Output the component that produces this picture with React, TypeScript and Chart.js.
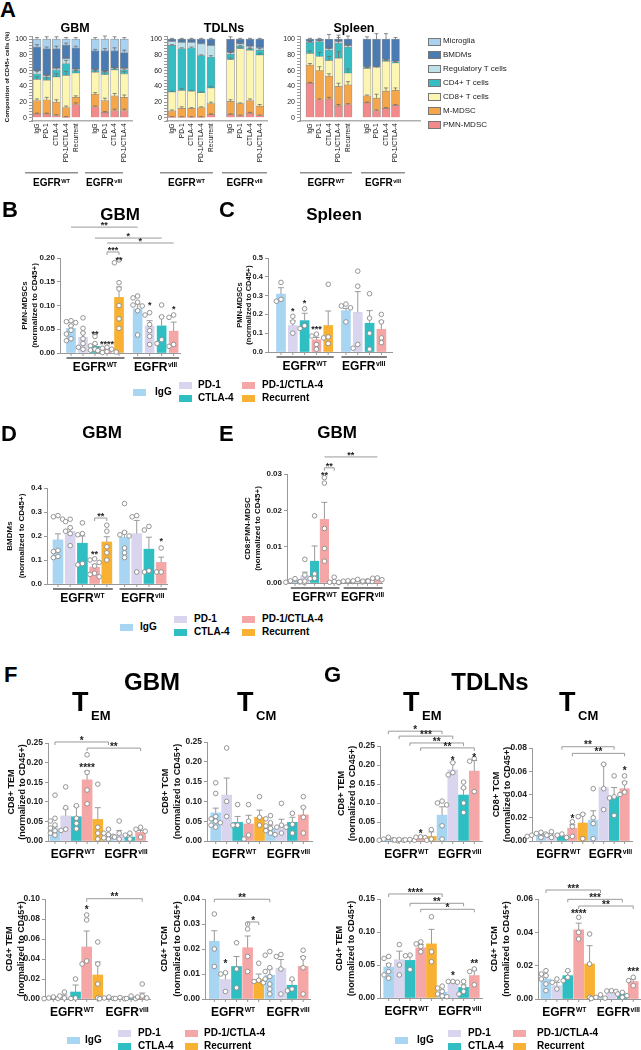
import React, { useEffect, useRef } from 'react';
import { Chart, registerables } from 'chart.js';

Chart.register(...registerables);

const FONT = '"Liberation Sans", Arial, Helvetica, sans-serif';
Chart.defaults.font.family = FONT;

/* ---------------- shared treatment groups ---------------- */
const treatments = ['IgG', 'PD-1', 'CTLA-4', 'PD-1/CTLA-4', 'Recurrent'];
const treatmentColors = ['#A8D5F2', '#D9D5EE', '#2FBEC2', '#F5A7A7', '#F8B132'];
const barGroupIdx = [0, 1, 2, 3, 4, 0, 1, 2, 3]; // EGFR WT x5, EGFR vIII x4

/* ---------------- Panel A: composition of CD45+ cells (%) ---------------- */
const aPopulations = ['PMN-MDSC', 'M-MDSC', 'CD8+ T cells', 'CD4+ T cells', 'Regulatory T cells', 'BMDMs', 'Microglia'];
const aPopColors = ['#F28A8C', '#F5A54A', '#FCF6B2', '#34BEC4', '#BFE2EA', '#4A7CB3', '#A8D2F0'];
const aLegendOrder = [6, 5, 4, 3, 2, 1, 0];
const aBarLabels = ['IgG', 'PD-1', 'CTLA-4', 'PD-1/CTLA-4', 'Recurrent', 'IgG', 'PD-1', 'CTLA-4', 'PD-1/CTLA-4'];

const gbmPMN = [5, 5, 3, 1, 17, 14, 7, 9, 9];
const gbmMMDSC = [17, 18, 17, 12, 9, 16, 15, 19, 17];
const gbmCD8 = [27, 25, 32, 41, 31, 28, 33, 33, 30];
const gbmCD4 = [7, 4, 9, 15, 3, 2, 3, 1, 5];
const gbmTreg = [4, 2, 2, 6, 2, 1, 1, 1, 2];
const gbmBMDM = [30, 34, 25, 17, 27, 24, 26, 22, 20];
const gbmMicroglia = [10, 12, 12, 8, 11, 15, 15, 15, 17];
const gbmSem = [
  [1, 1, 1, 0.5, 2, 1, 1, 2, 2],
  [2, 3, 3, 2, 2, 2, 3, 3, 3],
  [3, 3, 4, 5, 3, 2, 4, 3, 3],
  [3, 2, 3, 4, 1, 1, 1, 1, 1],
  [1, 1, 1, 2, 1, 1, 1, 1, 1],
  [3, 2, 3, 3, 2, 2, 3, 4, 3],
  [2, 3, 3, 2, 2, 2, 4, 3, 2],
];

const tdlnPMN = [1, 1, 1, 1, 4, 4, 3, 6, 3];
const tdlnMMDSC = [8, 11, 11, 12, 14, 17, 15, 16, 12];
const tdlnCD8 = [24, 23, 22, 19, 20, 53, 70, 64, 65];
const tdlnCD4 = [59, 53, 55, 47, 39, 7, 3, 2, 6];
const tdlnTreg = [5, 8, 7, 15, 15, 2, 3, 3, 3];
const tdlnBMDM = [3, 4, 4, 6, 8, 17, 6, 9, 11];
const tdlnMicroglia = [0, 0, 0, 0, 0, 0, 0, 0, 0];
const tdlnSem = [
  [0.5, 0.5, 0.5, 0.5, 1, 1, 0.5, 1, 0.5],
  [1, 2, 1, 1, 2, 2, 1, 2, 2],
  [1, 2, 1, 1, 2, 2, 1, 2, 2],
  [1, 1, 1, 1, 2, 2, 1, 2, 2],
  [2, 3, 2, 2, 3, 2, 1, 2, 2],
  [1, 1, 1, 1, 1, 3, 1, 1, 1],
  [0, 0, 0, 0, 0, 0, 0, 0, 0],
];

const splPMN = [44, 23, 24, 15, 17, 19, 9, 12, 16];
const splMMDSC = [23, 37, 29, 25, 25, 9, 16, 22, 19];
const splCD8 = [15, 18, 20, 36, 15, 35, 39, 38, 35];
const splCD4 = [14, 19, 13, 19, 33, 1, 0, 1, 1];
const splTreg = [1, 1, 2, 2, 2, 1, 1, 1, 1];
const splBMDM = [3, 2, 12, 3, 8, 35, 35, 26, 28];
const splMicroglia = [0, 0, 0, 0, 0, 0, 0, 0, 0];
const splSem = [
  [1, 1, 2, 2, 1, 1, 1, 1, 1],
  [2, 5, 3, 4, 4, 1, 5, 4, 3],
  [3, 5, 5, 8, 5, 1, 1, 2, 1],
  [1, 1, 3, 10, 4, 0.5, 0.5, 0.5, 0.5],
  [0.5, 0.5, 0.5, 0.5, 0.5, 0.5, 0.5, 0.5, 0.5],
  [1, 1, 6, 2, 4, 3, 7, 7, 2],
  [0, 0, 0, 0, 0, 0, 0, 0, 0],
];

/* ---------------- Panel B: GBM PMN-MDSCs ---------------- */
const bMeans = [0.052, 0.033, 0.014, 0.005, 0.117, 0.093, 0.057, 0.057, 0.046];
const bSem = [0.006, 0.01, 0.004, 0.002, 0.022, 0.01, 0.011, 0.02, 0.019];
const bDots = [
  [0.068, 0.066, 0.064, 0.057, 0.048, 0.04, 0.03, 0.026],
  [0.074, 0.052, 0.042, 0.03, 0.02, 0.012, 0.008],
  [0.035, 0.02, 0.015, 0.008, 0.007, 0.006],
  [0.012, 0.01, 0.008, 0.005, 0.003, 0.002, 0.001],
  [0.196, 0.19, 0.148, 0.135, 0.1, 0.072, 0.052],
  [0.12, 0.116, 0.107, 0.101, 0.099, 0.089, 0.038],
  [0.085, 0.08, 0.06, 0.047, 0.035, 0.018],
  [0.101, 0.076, 0.028, 0.02],
  [0.08, 0.075, 0.018, 0.014],
];
const bStars = [[2, '**', 0.044], [3, '****', 0.023], [4, '**', 0.2], [6, '*', 0.105], [8, '*', 0.097]];
const bBrackets = [[0, 5, 0.265, '**'], [2, 7, 0.242, '*'], [3, 8, 0.2316, '*'], [3, 4, 0.2126, '***']];

/* ---------------- Panel C: Spleen PMN-MDSCs ---------------- */
const cMeans = [0.308, 0.141, 0.167, 0.065, 0.141, 0.22, 0.211, 0.153, 0.121];
const cSem = [0.034, 0.025, 0.039, 0.012, 0.077, 0.012, 0.11, 0.067, 0.043];
const cDots = [
  [0.37, 0.28, 0.27],
  [0.19, 0.16, 0.1],
  [0.23, 0.14, 0.125],
  [0.095, 0.085, 0.04, 0.015],
  [0.36, 0.08, 0.075, 0.045],
  [0.255, 0.245, 0.235, 0.16],
  [0.43, 0.35, 0.04, 0.02],
  [0.31, 0.18, 0.1, 0.015],
  [0.2, 0.16, 0.075, 0.05],
];
const cStars = [[1, '*', 0.229], [2, '*', 0.27], [3, '***', 0.133]];
const cBrackets: any[] = [];

/* ---------------- Panel D: GBM BMDMs ---------------- */
const dMeans = [0.184, 0.22, 0.17, 0.07, 0.175, 0.195, 0.21, 0.145, 0.09];
const dSem = [0.025, 0.012, 0.03, 0.012, 0.022, 0.022, 0.055, 0.05, 0.022];
const dDots = [
  [0.285, 0.28, 0.27, 0.14, 0.135, 0.115, 0.11],
  [0.27, 0.26, 0.235, 0.22, 0.21, 0.16],
  [0.255, 0.21, 0.205, 0.085, 0.08],
  [0.105, 0.1, 0.09, 0.075, 0.045, 0.04, 0.03],
  [0.245, 0.22, 0.155, 0.13, 0.1],
  [0.335, 0.215, 0.205, 0.2, 0.15, 0.13, 0.11],
  [0.285, 0.28, 0.05],
  [0.24, 0.225, 0.055, 0.05],
  [0.15, 0.05, 0.05],
];
const dStars = [[3, '**', 0.133], [8, '*', 0.19]];
const dBrackets = [[3, 4, 0.275, '**']];

/* ---------------- Panel E: GBM CD8:PMN-MDSC ---------------- */
const eMeans = [0.0003, 0.002, 0.006, 0.0175, 0.0003, 0.0004, 0.0005, 0.0004, 0.0008];
const eSem = [0.0002, 0.001, 0.0042, 0.0047, 0.0003, 0.0001, 0.0002, 0.0001, 0.0003];
const eDots = [
  [0.0012, 0.0006, 0.0003, 0.0002, 0.0001],
  [0.0065, 0.0022, 0.0005, 0.0004],
  [0.0185, 0.0025, 0.0013, 0.0012],
  [0.029, 0.0275, 0.015, 0.0095, 0.006],
  [0.0016, 0.0004, 0.0002, 0.0001],
  [0.0006, 0.0005, 0.0004, 0.0002],
  [0.001, 0.0006, 0.0003],
  [0.0006, 0.0005, 0.0004],
  [0.0014, 0.0013, 0.0009, 0.0005],
];
const eStars = [[3, '**', 0.0303]];
const eBrackets = [[3, 8, 0.0347, '**'], [3, 4, 0.0317, '**']];

/* ---------------- Panel F: GBM T-cell memory subsets ---------------- */
const fCd8TemMeans = [0.031, 0.064, 0.062, 0.156, 0.055, 0.012, 0.016, 0.01, 0.022];
const fCd8TemSem = [0.005, 0.018, 0.026, 0.022, 0.03, 0.004, 0.011, 0.005, 0.005];
const fCd8TemDots = [
  [0.117, 0.058, 0.051, 0.041, 0.033, 0.026, 0.02, 0.015],
  [0.138, 0.085, 0.03, 0.027],
  [0.09, 0.058, 0.045, 0.031],
  [0.22, 0.175, 0.13, 0.095],
  [0.145, 0.035, 0.02, 0.005],
  [0.03, 0.02, 0.016, 0.012, 0.008, 0.005],
  [0.051, 0.02, 0.01, 0.005],
  [0.02, 0.015, 0.005],
  [0.035, 0.03, 0.025, 0.01],
];
const fCd8TemStars = [[3, '****', 0.192]];
const fCd8TemBrackets = [[0, 5, 0.2526, '*'], [3, 8, 0.237, '**']];

const fCd8TcmMeans = [0.071, 0.116, 0.047, 0.043, 0.06, 0.032, 0.035, 0.047, 0.066];
const fCd8TcmSem = [0.012, 0.043, 0.015, 0.022, 0.018, 0.008, 0.02, 0.013, 0.02];
const fCd8TcmDots = [
  [0.147, 0.12, 0.062, 0.056, 0.05, 0.046, 0.04, 0.035],
  [0.235, 0.1, 0.062],
  [0.092, 0.04, 0.04],
  [0.092, 0.05, 0.015, 0.005],
  [0.112, 0.06, 0.04],
  [0.064, 0.056, 0.046, 0.038, 0.032, 0.026, 0.02, 0.016],
  [0.095, 0.04, 0.035, 0.035, 0.02],
  [0.07, 0.042, 0.02],
  [0.112, 0.085, 0.06, 0.02],
];
const fCd8TcmStars: any[] = [];
const fCd8TcmBrackets: any[] = [];

const fCd4TemMeans = [0.0005, 0.002, 0.007, 0.052, 0.024, 0.001, 0.0005, 0.001, 0.003];
const fCd4TemSem = [0.0003, 0.002, 0.007, 0.016, 0.013, 0.0005, 0.0003, 0.0005, 0.003];
const fCd4TemDots = [
  [0.002, 0.001, 0.0005, 0.0003],
  [0.007, 0.003, 0.001],
  [0.02, 0.001, 0.0005],
  [0.084, 0.079, 0.038, 0.035],
  [0.057, 0.035, 0.015, 0.001],
  [0.002, 0.001, 0.0005, 0.0003],
  [0.0015, 0.0005, 0.0002],
  [0.003, 0.0005, 0.0003],
  [0.015, 0.003, 0.002, 0.001],
];
const fCd4TemStars = [[3, '*', 0.092]];
const fCd4TemBrackets = [[3, 8, 0.1003, '**']];

const fCd4TcmMeans = [0.0231, 0.0078, 0.013, 0.0205, 0.0078, 0.0095, 0.0123, 0.0055, 0.013];
const fCd4TcmSem = [0.0042, 0.0025, 0.004, 0.0047, 0.0022, 0.0025, 0.0035, 0.002, 0.004];
const fCd4TcmDots = [
  [0.034, 0.02, 0.013],
  [0.0105, 0.01, 0.003],
  [0.0225, 0.012, 0.0045],
  [0.03, 0.028, 0.017, 0.011],
  [0.0143, 0.0075, 0.007, 0.0065],
  [0.019, 0.0175, 0.0125, 0.011, 0.009, 0.008, 0.006, 0.004, 0.002],
  [0.0178, 0.017, 0.012, 0.002],
  [0.008, 0.004, 0.0033],
  [0.0195, 0.0165, 0.0125, 0.002],
];
const fCd4TcmStars = [[1, '*', 0.0149]];
const fCd4TcmBrackets = [[0, 5, 0.0399, '**'], [3, 4, 0.0308, '*']];

/* ---------------- Panel G: TDLN T-cell memory subsets ---------------- */
const gCd8TemMeans = [0.003, 0.003, 0.003, 0.008, 0.012, 0.068, 0.187, 0.121, 0.184];
const gCd8TemSem = [0.001, 0.0005, 0.0005, 0.002, 0.012, 0.022, 0.02, 0.018, 0.028];
const gCd8TemDots = [
  [0.01, 0.005, 0.003, 0.002, 0.001],
  [0.004, 0.003, 0.002],
  [0.004, 0.003, 0.002],
  [0.011, 0.01, 0.009],
  [0.03, 0.005, 0.002],
  [0.105, 0.1, 0.095, 0.04, 0.005],
  [0.206, 0.18, 0.174],
  [0.155, 0.14, 0.1, 0.075],
  [0.217, 0.21, 0.13],
];
const gCd8TemStars = [[3, '*', 0.0245], [6, '*', 0.218], [8, '*', 0.226]];
const gCd8TemBrackets = [[0, 5, 0.289, '*'], [1, 6, 0.276, '***'], [2, 7, 0.258, '**'], [3, 8, 0.245, '**']];

const gCd8TcmMeans = [0.005, 0.005, 0.004, 0.011, 0.0155, 0.018, 0.046, 0.038, 0.045];
const gCd8TcmSem = [0.001, 0.001, 0.001, 0.003, 0.008, 0.008, 0.02, 0.008, 0.006];
const gCd8TcmDots = [
  [0.0075, 0.0065, 0.006, 0.005, 0.0045, 0.004, 0.003],
  [0.008, 0.005, 0.003],
  [0.006, 0.005, 0.003],
  [0.0166, 0.0123, 0.004],
  [0.023, 0.021, 0.002],
  [0.045, 0.02, 0.015, 0.002],
  [0.066, 0.045, 0.027],
  [0.056, 0.038, 0.037, 0.022],
  [0.056, 0.05, 0.042, 0.04],
];
const gCd8TcmStars = [[3, '*', 0.0209], [8, '*', 0.0628]];
const gCd8TcmBrackets = [[2, 7, 0.0811, '**'], [3, 8, 0.0754, '**']];

const gCd4TemMeans = [0.047, 0.058, 0.057, 0.076, 0.082, 0.009, 0.025, 0.016, 0.034];
const gCd4TemSem = [0.005, 0.013, 0.008, 0.005, 0.022, 0.003, 0.001, 0.004, 0.008];
const gCd4TemDots = [
  [0.063, 0.06, 0.05, 0.04, 0.035, 0.03],
  [0.081, 0.05, 0.035],
  [0.065, 0.064, 0.043],
  [0.085, 0.082, 0.078, 0.07],
  [0.123, 0.07, 0.055],
  [0.018, 0.015, 0.01, 0.006, 0.003, 0.002],
  [0.025, 0.025, 0.024],
  [0.025, 0.017, 0.01, 0.006],
  [0.044, 0.04, 0.02],
];
const gCd4TemStars = [[6, '*', 0.0374], [8, '**', 0.055]];
const gCd4TemBrackets = [[0, 5, 0.1576, '****'], [2, 7, 0.1435, '**'], [3, 8, 0.1344, '*']];

const gCd4TcmMeans = [0.012, 0.008, 0.014, 0.0415, 0.021, 0.0008, 0.0045, 0.003, 0.0105];
const gCd4TcmSem = [0.002, 0.002, 0.0025, 0.004, 0.011, 0.0006, 0.0004, 0.001, 0.0015];
const gCd4TcmDots = [
  [0.017, 0.015, 0.014, 0.012, 0.009, 0.005],
  [0.012, 0.01, 0.006],
  [0.017, 0.013, 0.011],
  [0.049, 0.04, 0.036],
  [0.039, 0.021, 0.001],
  [0.0025, 0.001, 0.0005, 0.0003],
  [0.005, 0.0048, 0.0045],
  [0.004, 0.003, 0.002, 0.001],
  [0.013, 0.011, 0.008],
];
const gCd4TcmStars = [[3, '****', 0.0524], [8, '***', 0.0178]];
const gCd4TcmBrackets = [[0, 5, 0.0654, '***'], [2, 7, 0.0598, '***'], [3, 8, 0.0558, '**']];

/* ---------------- helpers ---------------- */
const posWithGap = (g: number) => [0, 1, 2, 3, 4, g, g + 1, g + 2, g + 3];
const fmtStep = (step: number, dec: number) => (v: number) =>
  Math.abs(v / step - Math.round(v / step)) < 1e-6 && v >= -1e-9 ? v.toFixed(dec) : '';

function swarm(py: number[], r: number, step: number): number[] {
  const placed: { x: number; y: number }[] = [];
  const cands = [0, -step, step, -2 * step, 2 * step, -3 * step, 3 * step];
  return py.map((y) => {
    for (const c of cands) {
      if (placed.every((p) => Math.hypot(p.x - c, p.y - y) >= 2 * r - 0.4)) {
        placed.push({ x: c, y });
        return c;
      }
    }
    placed.push({ x: 0, y });
    return 0;
  });
}

function drawEGFR(ctx: CanvasRenderingContext2D, cx: number, cy: number, size: number, sup: string) {
  ctx.save();
  ctx.fillStyle = '#000';
  ctx.textAlign = 'left';
  ctx.textBaseline = 'alphabetic';
  const big = `bold ${size}px ${FONT}`;
  const small = `bold ${size * 0.56}px ${FONT}`;
  ctx.font = big;
  const w1 = ctx.measureText('EGFR').width;
  ctx.font = small;
  const w2 = ctx.measureText(sup).width;
  const x0 = cx - (w1 + w2 + 0.5) / 2;
  const base = cy + size * 0.36;
  ctx.font = big;
  ctx.fillText('EGFR', x0, base);
  ctx.font = small;
  ctx.fillText(sup, x0 + w1 + 0.5, base - size * 0.36);
  ctx.restore();
}

function drawStar(ctx: CanvasRenderingContext2D, label: string, x: number, cy: number, size: number) {
  ctx.save();
  ctx.fillStyle = '#222';
  ctx.font = `bold ${size}px ${FONT}`;
  ctx.textAlign = 'center';
  ctx.textBaseline = 'alphabetic';
  ctx.fillText(label, x, cy + size * 0.57);
  ctx.restore();
}

function seg(ctx: CanvasRenderingContext2D, x1: number, y1: number, x2: number, y2: number) {
  ctx.beginPath();
  ctx.moveTo(x1, y1);
  ctx.lineTo(x2, y2);
  ctx.stroke();
}

function drawDeco(chart: any, cfg: any) {
  const { ctx, chartArea } = chart;
  const xs = chart.scales.x;
  const ys = chart.scales.y;
  const X = (v: number) => xs.getPixelForValue(v);
  const Y = (v: number) => ys.getPixelForValue(v);
  const f = cfg.frame;
  const y0 = Y(0);
  ctx.save();
  // y-axis title
  ctx.fillStyle = '#111';
  ctx.font = `bold ${f.titleSize}px ${FONT}`;
  ctx.textAlign = 'center';
  ctx.textBaseline = 'middle';
  const midY = (Y(f.ymax) + y0) / 2;
  f.yTitle.forEach((t: string, k: number) => {
    ctx.save();
    ctx.translate(chartArea.left - f.titleDx[k], midY);
    ctx.rotate(-Math.PI / 2);
    ctx.fillText(t, 0, 0);
    ctx.restore();
  });

  if (cfg.kind === 'stack') {
    ctx.strokeStyle = '#707070';
    ctx.lineWidth = 0.8;
    cfg.pos.forEach((p: number, i: number) => {
      let cum = 0;
      const x = X(p);
      cfg.segs.forEach((s: number[], k: number) => {
        cum += s[i];
        const e = cfg.sems[k][i];
        if (s[i] > 0 && e > 0) {
          const yt = Y(cum);
          const ye = Y(cum + e);
          seg(ctx, x, yt, x, ye);
          seg(ctx, x - 2, ye, x + 2, ye);
        }
      });
    });
    ctx.fillStyle = '#111';
    ctx.font = `${cfg.labelSize}px ${FONT}`;
    ctx.textAlign = 'right';
    ctx.textBaseline = 'middle';
    cfg.labels.forEach((lab: string, i: number) => {
      ctx.save();
      ctx.translate(X(cfg.pos[i]), y0 + 5.5);
      ctx.rotate(-Math.PI / 2);
      ctx.fillText(lab, 0, 0);
      ctx.restore();
    });
    ctx.strokeStyle = '#8f8f8f';
    ctx.lineWidth = 1.5;
    cfg.groupLines.forEach((gl: number[], g: number) => {
      seg(ctx, X(gl[0]), y0 + 55, X(gl[1]), y0 + 55);
      drawEGFR(ctx, (X(gl[0]) + X(gl[1])) / 2, y0 + 65, 10, g === 0 ? 'WT' : 'vIII');
    });
  } else {
    const bw = cfg.barW;
    ctx.strokeStyle = '#999';
    ctx.lineWidth = 1;
    cfg.pos.forEach((p: number) => seg(ctx, X(p), y0, X(p), y0 + 3));
    ctx.strokeStyle = '#9a9a9a';
    cfg.pos.forEach((p: number, i: number) => {
      const x = X(p);
      const yt = Y(cfg.means[i]);
      const ye = Y(cfg.means[i] + cfg.sems[i]);
      seg(ctx, x, yt, x, ye);
      seg(ctx, x - 3, ye, x + 3, ye);
    });
    const r = 2.3;
    cfg.pos.forEach((p: number, i: number) => {
      const x = X(p);
      const pys = cfg.dots[i].map(Y);
      const offs = swarm(pys, r, 4.6);
      pys.forEach((py: number, k: number) => {
        ctx.beginPath();
        ctx.arc(x + offs[k], py, r, 0, Math.PI * 2);
        ctx.fillStyle = '#fff';
        ctx.fill();
        ctx.strokeStyle = '#8a8a8a';
        ctx.lineWidth = 0.9;
        ctx.stroke();
      });
    });
    ctx.strokeStyle = '#9a9a9a';
    ctx.lineWidth = 1;
    cfg.brackets.forEach((b: any[]) => {
      const [i, j, v, lab] = b;
      const x1 = X(cfg.pos[i]);
      const x2 = X(cfg.pos[j]);
      const y = Y(v);
      const tick = cfg.bracketTicks === 'all' || j - i === 1 ? 3 : 0;
      ctx.beginPath();
      ctx.moveTo(x1, y + tick);
      ctx.lineTo(x1, y);
      ctx.lineTo(x2, y);
      ctx.lineTo(x2, y + tick);
      ctx.stroke();
      drawStar(ctx, lab, (x1 + x2) / 2, y - 4, cfg.starSize);
    });
    cfg.stars.forEach((s: any[]) => drawStar(ctx, s[1], X(cfg.pos[s[0]]), Y(s[2]), cfg.starSize));
    const groups: [number, number, string, number][] = [[0, 4, 'WT', cfg.groupShift[0]], [5, 8, 'vIII', cfg.groupShift[1]]];
    groups.forEach(([a, b, sup, sh]) => {
      const xa = X(cfg.pos[a]);
      const xb = X(cfg.pos[b]);
      if (cfg.groupLines) {
        ctx.strokeStyle = '#555';
        ctx.lineWidth = 1.4;
        seg(ctx, xa - bw / 2, y0 + 5, xb + bw / 2 + 1, y0 + 5);
      }
      drawEGFR(ctx, (xa + xb) / 2 + sh, y0 + cfg.groupDy, cfg.groupSize, sup);
    });
  }
  ctx.restore();
}

const PAD_L = 50;
const PAD_R = 14;

function makeConfig(cfg: any) {
  const f = cfg.frame;
  const isStack = cfg.kind === 'stack';
  let datasets: any[];
  if (isStack) {
    datasets = cfg.segs.map((s: number[], k: number) => ({
      label: aPopulations[k],
      data: cfg.pos.map((x: number, i: number) => ({ x, y: s[i] })),
      backgroundColor: aPopColors[k],
      borderColor: 'rgba(60,60,60,0.55)',
      borderWidth: 0.7,
      barThickness: cfg.barW,
    }));
  } else {
    datasets = [
      {
        label: cfg.name,
        data: cfg.pos.map((x: number, i: number) => ({ x, y: cfg.means[i] })),
        backgroundColor: cfg.pos.map((_: number, i: number) => treatmentColors[barGroupIdx[i]]),
        borderWidth: 0,
        barThickness: cfg.barW,
      },
    ];
  }
  const padB = cfg.padB;
  return {
    type: 'bar',
    data: { datasets },
    options: {
      responsive: false,
      maintainAspectRatio: false,
      animation: false,
      events: [],
      layout: { padding: { left: 0, top: cfg.padT, right: PAD_R, bottom: 0 } },
      plugins: { legend: { display: false }, tooltip: { enabled: false }, title: { display: false } },
      scales: {
        x: {
          type: 'linear',
          min: f.xmin,
          max: f.xmax,
          offset: false,
          stacked: isStack,
          ticks: { display: false },
          grid: { display: false },
          border: { display: true, color: isStack ? '#b0b0b0' : '#999', width: isStack ? 1.5 : 1 },
          afterFit: (s: any) => {
            s.height = padB;
          },
        },
        y: {
          type: 'linear',
          min: f.ymin,
          max: f.ymax,
          stacked: isStack,
          ticks: {
            stepSize: f.step,
            maxTicksLimit: 200,
            autoSkip: false,
            padding: 2,
            color: '#222',
            font: { family: FONT, size: f.tickSize, weight: f.tickBold ? 'bold' : 'normal' },
            callback: (v: number) => f.label(v),
          },
          grid: { drawOnChartArea: false, drawTicks: true, tickLength: 3, color: '#999', lineWidth: 1 },
          border: { display: true, color: '#999', width: 1 },
          afterFit: (s: any) => {
            s.width = PAD_L;
          },
        },
      },
    },
    plugins: [{ id: 'deco', afterDraw: (chart: any) => drawDeco(chart, cfg) }],
  };
}

function ChartCanvas({ cfg }: { cfg: any }) {
  const ref = useRef<HTMLCanvasElement | null>(null);
  const f = cfg.frame;
  const left = f.L - PAD_L;
  const top = f.T - cfg.padT;
  const w = f.R - f.L + PAD_L + PAD_R;
  const h = f.B - f.T + cfg.padT + cfg.padB;
  useEffect(() => {
    const chart = new Chart(ref.current as HTMLCanvasElement, makeConfig(cfg) as any);
    return () => chart.destroy();
  }, []);
  return <canvas ref={ref} width={w} height={h} style={{ position: 'absolute', left, top, width: w, height: h }} />;
}

/* ---------------- chart layouts ---------------- */
const aLabelFmt = (v: number) => (v >= 0 && v % 20 === 0 ? String(v) : '');
const aFrame = (L: number, R: number, xmin: number, xmax: number, title: boolean) => ({
  L, R, T: 36, B: 121, xmin, xmax, ymin: -4, ymax: 104, step: 4, label: aLabelFmt,
  tickSize: 7, tickBold: false,
  yTitle: title ? ['Composition of CD45+ cells (%)'] : [], titleDx: [25], titleSize: 6,
});
const aPos = [0, 1, 2, 3, 4, 6, 7, 8, 9];

const stackCharts = [
  {
    kind: 'stack', frame: aFrame(32, 132, -0.515, 9.794, true), pos: aPos, barW: 8, labels: aBarLabels, labelSize: 6.5,
    segs: [gbmPMN, gbmMMDSC, gbmCD8, gbmCD4, gbmTreg, gbmBMDM, gbmMicroglia], sems: gbmSem,
    groupLines: [[-1.24, 4.23], [4.95, 8.87]], padT: 10, padB: 72,
  },
  {
    kind: 'stack', frame: aFrame(167, 267, -0.513, 9.744, false), pos: aPos, barW: 8, labels: aBarLabels, labelSize: 6.5,
    segs: [tdlnPMN, tdlnMMDSC, tdlnCD8, tdlnCD4, tdlnTreg, tdlnBMDM, tdlnMicroglia], sems: tdlnSem,
    groupLines: [[-1.23, 4.2], [5.13, 9.74]], padT: 10, padB: 72,
  },
  {
    kind: 'stack', frame: aFrame(300, 420, -1.053, 11.58, false), pos: aPos, barW: 8, labels: aBarLabels, labelSize: 6.5,
    segs: [splPMN, splMMDSC, splCD8, splCD4, splTreg, splBMDM, splMicroglia], sems: splSem,
    groupLines: [[-1.05, 4.42], [5.37, 10.0]], padT: 10, padB: 72,
  },
];

const smallFrame = (L: number, R: number, T: number, B: number, xmin: number, xmax: number, ymax: number, step: number, dec: number, yTitle: string[], titleDx: number[], tickSize: number, titleSize: number) => ({
  L, R, T, B, xmin, xmax, ymin: 0, ymax, step, label: fmtStep(step, dec), tickSize, tickBold: true, yTitle, titleDx, titleSize,
});

const mid = { bracketTicks: 'short', groupLines: true, groupDy: 14, groupSize: 12, groupShift: [0, 0], starSize: 9, padT: 55, padB: 28 };
const big = { bracketTicks: 'all', groupLines: false, groupDy: 13, groupSize: 12, groupShift: [-3.5, 1.5], starSize: 10, padT: 55, padB: 22 };
const posF = [0, 1, 2, 3, 4, 5, 6, 7, 8];

const barCharts = [
  {
    kind: 'bar', name: 'GBM PMN-MDSCs', ...mid, barW: 9, pos: posWithGap(5.55),
    frame: smallFrame(60, 180, 258, 353, -0.917, 9.08, 0.2, 0.05, 2, ['PMN-MDSCs', '(normalized to CD45+)'], [35, 25], 8, 8),
    means: bMeans, sems: bSem, dots: bDots, stars: bStars, brackets: bBrackets,
  },
  {
    kind: 'bar', name: 'Spleen PMN-MDSCs', ...mid, barW: 9, pos: posWithGap(5.5),
    frame: smallFrame(268, 392, 258, 352, -1.1, 9.4, 0.5, 0.1, 1, ['PMN-MDSCs', '(normalized to CD45+)'], [28, 19], 7.5, 7.5),
    means: cMeans, sems: cSem, dots: cDots, stars: cStars, brackets: cBrackets,
  },
  {
    kind: 'bar', name: 'GBM BMDMs', ...mid, barW: 10, pos: posWithGap(5.45),
    frame: smallFrame(47, 167, 488, 584, -0.9, 8.93, 0.4, 0.1, 1, ['BMDMs', '(normalized to CD45+)'], [37, 25], 8, 8),
    means: dMeans, sems: dSem, dots: dDots, stars: dStars, brackets: dBrackets,
  },
  {
    kind: 'bar', name: 'GBM CD8:PMN-MDSC', ...mid, barW: 8.5, pos: posWithGap(5.4),
    frame: smallFrame(287, 382, 474, 583, -0.82, 8.88, 0.03, 0.01, 2, ['CD8:PMN-MDSC', '(normalized to CD45+)'], [39, 29], 8, 8),
    means: eMeans, sems: eSem, dots: eDots, stars: eStars, brackets: eBrackets,
  },
  {
    kind: 'bar', name: 'GBM CD8+ TEM', ...big, barW: 10, pos: posF,
    frame: smallFrame(48, 147, 743, 841, -0.654, 8.6, 0.25, 0.05, 2, ['CD8+ TEM', '(normalized to CD45+)'], [36, 25], 8.5, 9),
    means: fCd8TemMeans, sems: fCd8TemSem, dots: fCd8TemDots, stars: fCd8TemStars, brackets: fCd8TemBrackets,
  },
  {
    kind: 'bar', name: 'GBM CD8+ TCM', ...big, barW: 10, pos: posF,
    frame: smallFrame(207, 312, 742, 841, -0.795, 8.79, 0.25, 0.05, 2, ['CD8+ TCM', '(normalized to CD45+)'], [41, 29], 8.5, 9),
    means: fCd8TcmMeans, sems: fCd8TcmSem, dots: fCd8TcmDots, stars: fCd8TcmStars, brackets: fCd8TcmBrackets,
  },
  {
    kind: 'bar', name: 'GBM CD4+ TEM', ...big, barW: 10, pos: posF,
    frame: smallFrame(45, 150, 899, 999, -0.75, 8.7, 0.1, 0.02, 2, ['CD4+ TEM', '(normalized to CD45+)'], [35, 23], 8.5, 9),
    means: fCd4TemMeans, sems: fCd4TemSem, dots: fCd4TemDots, stars: fCd4TemStars, brackets: fCd4TemBrackets,
  },
  {
    kind: 'bar', name: 'GBM CD4+ TCM', ...big, barW: 10, pos: posF,
    frame: smallFrame(205, 310, 899, 999, -0.84, 8.62, 0.04, 0.01, 2, ['CD4+ TCM', '(normalized to CD45+)'], [40, 27], 8.5, 9),
    means: fCd4TcmMeans, sems: fCd4TcmSem, dots: fCd4TcmDots, stars: fCd4TcmStars, brackets: fCd4TcmBrackets,
  },
  {
    kind: 'bar', name: 'TDLN CD8+ TEM', ...big, barW: 10, pos: posF,
    frame: smallFrame(380, 482, 746, 841, -0.78, 8.72, 0.25, 0.05, 2, ['CD8+ TEM', '(normalized to CD45+)'], [38, 27], 8.5, 9),
    means: gCd8TemMeans, sems: gCd8TemSem, dots: gCd8TemDots, stars: gCd8TemStars, brackets: gCd8TemBrackets,
  },
  {
    kind: 'bar', name: 'TDLN CD8+ TCM', ...big, barW: 9.5, pos: posF,
    frame: smallFrame(532, 632, 748, 841, -0.86, 8.71, 0.08, 0.02, 2, ['CD8+ TCM', '(normalized to CD45+)'], [35, 24], 8.5, 9),
    means: gCd8TcmMeans, sems: gCd8TcmSem, dots: gCd8TcmDots, stars: gCd8TcmStars, brackets: gCd8TcmBrackets,
  },
  {
    kind: 'bar', name: 'TDLN CD4+ TEM', ...big, barW: 10, pos: posF,
    frame: smallFrame(380, 482, 899, 998, -0.81, 8.72, 0.15, 0.05, 2, ['CD4+ TEM', '(normalized to CD45+)'], [40, 28], 8.5, 9),
    means: gCd4TemMeans, sems: gCd4TemSem, dots: gCd4TemDots, stars: gCd4TemStars, brackets: gCd4TemBrackets,
  },
  {
    kind: 'bar', name: 'TDLN CD4+ TCM', ...big, barW: 10, pos: posF,
    frame: smallFrame(538, 640, 899, 999, -0.73, 8.62, 0.06, 0.02, 2, ['CD4+ TCM', '(normalized to CD45+)'], [43, 31], 8.5, 9),
    means: gCd4TcmMeans, sems: gCd4TcmSem, dots: gCd4TcmDots, stars: gCd4TcmStars, brackets: gCd4TcmBrackets,
  },
];

/* ---------------- HTML text ---------------- */
function Txt({ x, y, s, bold = true, color = '#000', center = false, children }: any) {
  const style: React.CSSProperties = {
    position: 'absolute',
    left: x,
    top: y - s * 0.847,
    fontSize: s,
    lineHeight: `${s}px`,
    fontFamily: FONT,
    fontWeight: bold ? 700 : 400,
    color,
    whiteSpace: 'nowrap',
    transform: center ? 'translateX(-50%)' : undefined,
  };
  return <div style={style}>{children}</div>;
}

function TreatLegend({ items }: { items: number[][] }) {
  return (
    <>
      {items.map(([t, sx, cy, tx], k) => (
        <React.Fragment key={k}>
          <div style={{ position: 'absolute', left: sx, top: cy - 3.5, width: 13, height: 7, background: treatmentColors[t] }} />
          <Txt x={tx} y={cy + 3.6} s={10}>{treatments[t]}</Txt>
        </React.Fragment>
      ))}
    </>
  );
}

function TSub({ x, y, main, sub }: any) {
  return (
    <>
      <Txt x={x} y={y} s={27}>{main}</Txt>
      <Txt x={x + 19} y={y + 8} s={13}>{sub}</Txt>
    </>
  );
}

const aLegendY = [41, 54.5, 68.5, 82.5, 96.5, 110.5, 124.5];

export default function App() {
  return (
    <div style={{ position: 'absolute', left: 0, top: 0, width: 641, height: 1050, overflow: 'hidden', background: '#fff' }}>
      {stackCharts.map((c, i) => (
        <ChartCanvas key={'a' + i} cfg={c} />
      ))}
      {barCharts.map((c, i) => (
        <ChartCanvas key={'b' + i} cfg={c} />
      ))}

      {/* panel letters */}
      <Txt x={0} y={18} s={22}>A</Txt>
      <Txt x={2} y={218} s={22}>B</Txt>
      <Txt x={219} y={218} s={22}>C</Txt>
      <Txt x={1} y={442} s={22}>D</Txt>
      <Txt x={219} y={442} s={22}>E</Txt>
      <Txt x={4} y={683} s={22}>F</Txt>
      <Txt x={324} y={683} s={22}>G</Txt>

      {/* titles */}
      <Txt x={75} y={33} s={12.5} center>GBM</Txt>
      <Txt x={224} y={33} s={12.5} center>TDLNs</Txt>
      <Txt x={354} y={33} s={12.5} center>Spleen</Txt>
      <Txt x={120} y={220} s={17} center>GBM</Txt>
      <Txt x={334} y={220} s={17} center>Spleen</Txt>
      <Txt x={102} y={438} s={17} center>GBM</Txt>
      <Txt x={337} y={438} s={17} center>GBM</Txt>
      <Txt x={152} y={690} s={24} center>GBM</Txt>
      <Txt x={490} y={690} s={24} center>TDLNs</Txt>
      <TSub x={72} y={712} main="T" sub="EM" />
      <TSub x={237} y={712} main="T" sub="CM" />
      <TSub x={403} y={712} main="T" sub="EM" />
      <TSub x={559} y={712} main="T" sub="CM" />

      {/* panel A legend */}
      {aLegendOrder.map((k, r) => (
        <React.Fragment key={'al' + k}>
          <div style={{ position: 'absolute', left: 428, top: aLegendY[r] - 3.5, width: 11, height: 6, background: aPopColors[k], border: '0.5px solid #777' }} />
          <Txt x={443} y={aLegendY[r] + 2.9} s={8} bold={false} color="#222">{aPopulations[k]}</Txt>
        </React.Fragment>
      ))}

      {/* treatment legends */}
      <TreatLegend items={[[0, 133, 392, 155], [1, 179, 385, 198], [2, 179, 398, 198], [3, 242, 385, 262], [4, 242, 398, 262]]} />
      <TreatLegend items={[[0, 120, 627, 140], [1, 174, 619, 194], [2, 174, 632, 194], [3, 242, 619, 262], [4, 242, 632, 262]]} />
      <TreatLegend items={[[0, 67, 1040, 85], [1, 118, 1033, 138], [2, 118, 1046, 138], [3, 185, 1033, 204], [4, 185, 1046, 204]]} />
      <TreatLegend items={[[0, 395, 1040, 417], [1, 448, 1033, 468], [2, 448, 1046, 468], [3, 513, 1033, 537], [4, 513, 1046, 537]]} />
    </div>
  );
}
